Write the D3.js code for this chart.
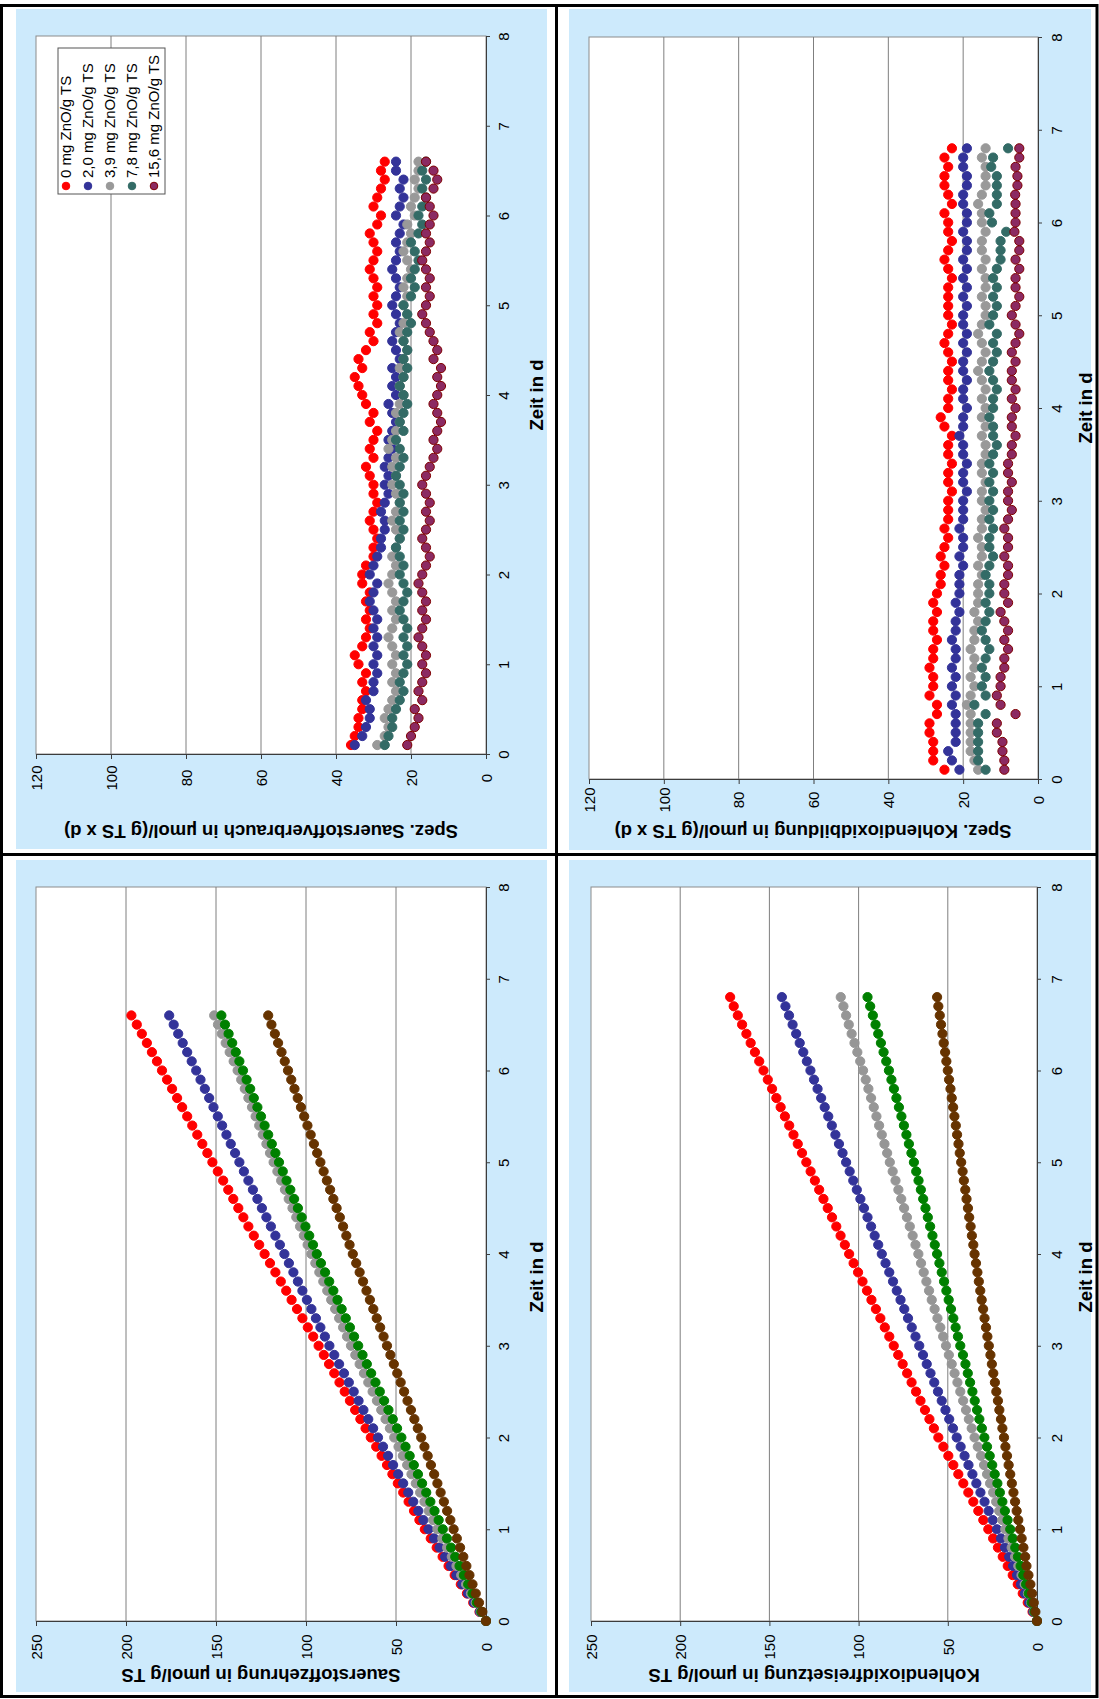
<!DOCTYPE html>
<html>
<head>
<meta charset="utf-8">
<script src="https://cdn.jsdelivr.net/npm/d3@7"></script>
<style>
  body { margin: 0; background: #fff; }
  svg { display: block; }
  text { font-family: Arial, "Liberation Sans", sans-serif; }
</style>
</head>
<body>
<svg id="chart" width="1099" height="1699"></svg>
<script>
'use strict'

// sampling times in d (one reading every 0.1 d)
const DAYS_RATE_O2 = d3.range(1, 67).map(i => i / 10)   // 0.1 .. 6.6
const DAYS_RATE_CO2 = d3.range(1, 69).map(i => i / 10)  // 0.1 .. 6.8
const DAYS_CUM_O2 = d3.range(0, 67).map(i => i / 10)    // 0.0 .. 6.6
const DAYS_CUM_CO2 = d3.range(0, 69).map(i => i / 10)   // 0.0 .. 6.8

const SERIES_NAMES = ['0 mg ZnO/g TS', '2,0 mg ZnO/g TS', '3,9 mg ZnO/g TS', '7,8 mg ZnO/g TS', '15,6 mg ZnO/g TS']
const DAY_TICKS = [0, 1, 2, 3, 4, 5, 6, 7, 8]
const RATE_TICKS = [0, 20, 40, 60, 80, 100, 120]
const CUM_TICKS = [0, 50, 100, 150, 200, 250]

// Spez. Sauerstoffverbrauch, µmol/(g TS x d)
const O2_RATE_0 = [36, 35, 34, 34, 33, 33, 32, 33, 32, 34,
  35, 33, 32, 31, 32, 31, 32, 31, 33, 33,
  32, 30, 30, 29, 30, 31, 30, 29, 30, 30,
  31, 32, 30, 31, 30, 29, 31, 30, 32, 33,
  34, 35, 33, 34, 32, 30, 31, 29, 30, 29,
  30, 29, 30, 31, 30, 29, 30, 31, 29, 28,
  30, 29, 28, 27, 28, 27]
const O2_RATE_2 = [35, 33, 32, 31, 31, 32, 30, 30, 29, 30,
  29, 30, 29, 30, 29, 30, 31, 30, 29, 31,
  30, 29, 28, 28, 27, 27, 28, 27, 26, 27,
  26, 27, 26, 25, 26, 25, 24, 25, 26, 24,
  25, 24, 25, 23, 24, 25, 24, 23, 24, 25,
  24, 23, 24, 25, 24, 23, 24, 23, 22, 24,
  23, 22, 23, 22, 24, 24]
const O2_RATE_4 = [29, 27, 26, 27, 26, 25, 24, 25, 24, 25,
  24, 25, 26, 25, 24, 25, 24, 25, 26, 25,
  24, 25, 24, 23, 24, 25, 24, 23, 24, 25,
  24, 25, 24, 26, 25, 24, 23, 24, 23, 22,
  23, 22, 23, 22, 21, 22, 23, 22, 21, 22,
  21, 22, 21, 20, 21, 22, 21, 20, 21, 19,
  20, 19, 18, 19, 18, 18]
const O2_RATE_8 = [27, 26, 25, 25, 24, 23, 22, 23, 22, 21,
  22, 21, 22, 21, 22, 23, 22, 21, 22, 23,
  22, 23, 24, 23, 22, 23, 22, 23, 22, 23,
  24, 23, 22, 23, 24, 22, 23, 22, 21, 22,
  23, 22, 21, 22, 21, 22, 21, 20, 21, 22,
  20, 19, 20, 19, 18, 19, 20, 18, 17, 18,
  17, 16, 17, 16, 17, 16]
const O2_RATE_16 = [21, 20, 19, 18, 19, 17, 18, 17, 16, 17,
  16, 17, 18, 17, 16, 17, 16, 17, 18, 17,
  16, 15, 16, 17, 16, 15, 16, 15, 16, 17,
  16, 15, 14, 13, 14, 13, 12, 13, 14, 13,
  12, 13, 12, 14, 13, 14, 15, 16, 17, 16,
  15, 16, 15, 16, 17, 16, 15, 16, 15, 14,
  15, 16, 14, 13, 14, 16]

// Spez. Kohlendioxidbildung, µmol/(g TS x d)
const CO2_RATE_0 = [25, 28, 28, 28, 29, 29, 27, 27, 29, 28,
  28, 29, 28, 28, 27, 28, 28, 27, 28, 27,
  26, 26, 25, 26, 25, 24, 25, 24, 24, 24,
  23, 24, 24, 23, 24, 24, 23, 25, 26, 24,
  24, 23, 24, 24, 23, 24, 25, 24, 23, 24,
  24, 24, 24, 23, 24, 25, 24, 23, 24, 24,
  25, 23, 24, 25, 25, 24, 25, 23]
const CO2_RATE_2 = [21, 23, 24, 22, 22, 22, 22, 23, 22, 23,
  22, 23, 22, 22, 23, 22, 22, 21, 22, 21,
  21, 21, 20, 21, 20, 20, 21, 20, 20, 20,
  19, 20, 20, 19, 20, 20, 21, 20, 20, 19,
  20, 20, 19, 20, 20, 19, 20, 19, 20, 20,
  19, 20, 19, 20, 19, 20, 19, 19, 20, 19,
  19, 20, 20, 19, 19, 20, 20, 19]
const CO2_RATE_4 = [16, 17, 18, 18, 18, 18, 18, 19, 18, 17,
  18, 17, 17, 18, 17, 17, 16, 17, 16, 16,
  16, 15, 16, 15, 15, 16, 15, 15, 14, 15,
  15, 14, 15, 15, 14, 14, 15, 14, 15, 14,
  15, 14, 15, 16, 15, 14, 15, 16, 15, 14,
  14, 15, 14, 14, 15, 14, 15, 15, 14, 15,
  15, 16, 15, 14, 14, 14, 15, 14]
const CO2_RATE_8 = [14, 16, 16, 16, 16, 16, 14, 17, 14, 15,
  14, 15, 14, 13, 14, 15, 14, 13, 14, 13,
  13, 14, 13, 12, 13, 13, 12, 13, 12, 13,
  12, 13, 12, 13, 12, 11, 12, 12, 13, 12,
  12, 11, 12, 13, 12, 11, 12, 11, 13, 12,
  11, 12, 11, 12, 11, 10, 10, 10, 8.5, 12.3,
  13, 11, 11, 11, 11, 12.5, 12, 8]
const CO2_RATE_16 = [9, 9, 9.5, 9.5, 11, 11, 6, 10, 11, 10,
  10, 9, 9, 8, 9, 8, 9, 10, 8, 9,
  9, 8, 8, 9, 8, 8, 9, 8, 7, 8,
  8, 7, 8, 8, 7, 7, 6, 7, 7, 6,
  7, 6, 7, 7, 6, 7, 6, 5, 6, 7,
  6, 5, 6, 6, 5, 6, 5, 5, 6.3, 6,
  6, 6, 6.1, 5.5, 5.5, 6, 5, 5]

// Sauerstoffzehrung, µmol/g TS
const O2_CUM_0 = [0, 3.6, 7.1, 10.6, 14, 17.4, 20.8, 24.1, 27.4, 30.7, 34,
  37, 40, 43, 46, 49, 52, 55, 58, 61, 64,
  66.9, 69.8, 72.7, 75.6, 78.5, 81.4, 84.3, 87.2, 90.1, 93,
  96, 99, 102, 105, 108, 111, 114, 117, 120, 123,
  126, 129, 132, 134.8, 137.6, 140.4, 143.2, 146, 149, 152,
  154.8, 157.6, 160.4, 163.2, 166, 168.8, 171.6, 174.4, 177.2, 180,
  182.8, 185.6, 188.4, 191.2, 194, 197]
const O2_CUM_2 = [0, 3.4, 6.7, 10, 13.2, 16.4, 19.6, 22.7, 25.8, 28.9, 32,
  34.8, 37.6, 40.4, 43.2, 46, 48.8, 51.6, 54.4, 57.2, 60,
  62.7, 65.4, 68.1, 70.8, 73.5, 76.2, 78.9, 81.6, 84.3, 87,
  89.5, 92, 94.5, 97, 99.5, 102, 104.5, 107, 109.5, 112,
  114.5, 117, 119.5, 122, 124.5, 127, 129.5, 132, 134.5, 137,
  139.4, 141.8, 144.2, 146.6, 149, 151.4, 153.8, 156.2, 158.6, 161,
  163.5, 166, 168.5, 171, 173.5, 176]
const O2_CUM_4 = [0, 2.9, 5.7, 8.4, 11.1, 13.8, 16.4, 19, 21.6, 24.3, 27,
  29.4, 31.8, 34.2, 36.6, 39, 41.4, 43.8, 46.2, 48.6, 51,
  53.4, 55.8, 58.2, 60.6, 63, 65.4, 67.8, 70.2, 72.6, 75,
  77.2, 79.4, 81.6, 83.8, 86, 88.2, 90.4, 92.6, 94.8, 97,
  99.1, 101.2, 103.3, 105.4, 107.5, 109.6, 111.7, 113.8, 115.9, 118,
  120, 122, 124, 126, 128, 130, 132, 134, 136, 138,
  140.2, 142.4, 144.6, 146.8, 148.9, 151]
const O2_CUM_8 = [0, 2.6, 5.1, 7.5, 9.9, 12.3, 14.7, 17.1, 19.4, 21.7, 24,
  26.3, 28.6, 30.9, 33.2, 35.5, 37.8, 40.1, 42.4, 44.7, 47,
  49.4, 51.8, 54.2, 56.6, 59, 61.4, 63.8, 66.2, 68.6, 71,
  73.3, 75.6, 77.9, 80.2, 82.5, 84.8, 87.1, 89.4, 91.7, 94,
  96.1, 98.2, 100.3, 102.4, 104.5, 106.6, 108.7, 110.8, 112.9, 115,
  117, 119, 121, 123, 125, 127, 129, 131, 133, 135,
  137, 139, 141, 143, 145, 147]
const O2_CUM_16 = [0, 2, 3.9, 5.7, 7.5, 9.2, 10.9, 12.6, 14.4, 16.2, 18,
  19.8, 21.6, 23.4, 25.2, 27, 28.8, 30.6, 32.4, 34.2, 36,
  37.9, 39.8, 41.7, 43.6, 45.5, 47.4, 49.3, 51.2, 53.1, 55,
  56.9, 58.8, 60.7, 62.6, 64.5, 66.4, 68.3, 70.2, 72.1, 74,
  75.8, 77.6, 79.4, 81.2, 83, 84.8, 86.6, 88.4, 90.2, 92,
  93.8, 95.6, 97.4, 99.2, 101, 102.8, 104.6, 106.4, 108.2, 110,
  111.8, 113.6, 115.5, 117.3, 119.2, 121]

// Kohlendioxidfreisetzung, µmol/g TS
const CO2_CUM_0 = [0, 2.5, 5.2, 8, 10.8, 13.6, 16.4, 19.2, 21.9, 24.6, 27.3,
  30.1, 32.9, 35.7, 38.5, 41.3, 44.1, 46.9, 49.7, 52.5, 55.3,
  57.8, 60.3, 62.8, 65.3, 67.8, 70.3, 72.8, 75.3, 77.8, 80.3,
  82.8, 85.3, 87.8, 90.3, 92.8, 95.3, 97.8, 100.3, 102.8, 105.3,
  107.7, 110.1, 112.5, 114.9, 117.3, 119.7, 122.1, 124.5, 126.9, 129.3,
  131.7, 134.1, 136.5, 138.9, 141.3, 143.7, 146.1, 148.5, 150.9, 153.3,
  155.7, 158.1, 160.5, 162.9, 165.3, 167.7, 170, 172]
const CO2_CUM_2 = [0, 2.1, 4.4, 6.8, 9, 11.2, 13.4, 15.6, 17.9, 20.2, 22.5,
  24.8, 27.1, 29.4, 31.7, 34, 36.2, 38.4, 40.6, 42.8, 45,
  47.1, 49.2, 51.3, 53.4, 55.5, 57.6, 59.7, 61.8, 63.9, 66,
  68.1, 70.2, 72.3, 74.4, 76.5, 78.6, 80.7, 82.8, 84.9, 87,
  89, 91, 93, 95, 97, 99, 101, 103, 105, 107,
  109, 111, 113, 115, 117, 119, 121, 123, 125, 127,
  129, 131, 133, 135, 137, 139, 141, 143]
const CO2_CUM_4 = [0, 1.6, 3.3, 5.1, 6.9, 8.7, 10.5, 12.3, 14.2, 16, 17.8,
  19.5, 21.2, 22.9, 24.6, 26.3, 28, 29.7, 31.4, 33.2, 35,
  36.6, 38.2, 39.8, 41.4, 43, 44.6, 46.2, 47.8, 49.4, 51,
  52.6, 54.2, 55.8, 57.4, 59, 60.5, 62, 63.5, 65, 66.5,
  68.1, 69.7, 71.3, 72.9, 74.5, 76.1, 77.7, 79.3, 80.9, 82.5,
  84, 85.5, 87, 88.5, 90, 91.5, 93, 94.5, 96, 97.5,
  99.1, 100.7, 102.3, 103.9, 105.5, 107, 108.5, 110]
const CO2_CUM_8 = [0, 1.4, 3, 4.6, 6.1, 7.7, 9.2, 10.7, 12.2, 13.6, 15,
  16.5, 18, 19.4, 20.8, 22.2, 23.7, 25.1, 26.5, 28, 29.5,
  30.9, 32.3, 33.6, 34.9, 36.2, 37.5, 38.8, 40.1, 41.5, 43,
  44.3, 45.6, 46.9, 48.2, 49.5, 50.8, 52.1, 53.4, 54.7, 56,
  57.3, 58.6, 59.9, 61.2, 62.5, 63.8, 65.1, 66.4, 67.7, 69,
  70.4, 71.8, 73.2, 74.6, 76, 77.4, 78.8, 80.2, 81.6, 83,
  84.5, 86, 87.5, 89, 90.5, 92, 93.5, 95]
const CO2_CUM_16 = [0, 0.9, 1.8, 2.8, 3.7, 4.8, 5.9, 6.6, 7.6, 8.6, 9.5,
  10.5, 11.4, 12.3, 13.2, 14.1, 15, 15.9, 16.8, 17.7, 18.5,
  19.4, 20.2, 21.1, 21.9, 22.8, 23.6, 24.5, 25.3, 26.1, 27,
  27.8, 28.6, 29.4, 30.2, 31, 31.8, 32.6, 33.4, 34.2, 35,
  35.7, 36.5, 37.2, 38, 38.7, 39.5, 40.2, 41, 41.7, 42.5,
  43.3, 44, 44.8, 45.5, 46.3, 47, 47.8, 48.5, 49.3, 50,
  50.8, 51.5, 52.3, 53, 53.8, 54.5, 55.3, 56]

// marker styles
const RATE_STYLE = [
  { fill: '#ff0000', stroke: '#ff0000' },
  { fill: '#333399', stroke: '#333399' },
  { fill: '#999999', stroke: '#999999' },
  { fill: '#336b66', stroke: '#336b66' },
  { fill: '#8b2a62', stroke: '#800000' }
]
const CUM_STYLE = [
  { fill: '#ff0000', stroke: '#ff0000' },
  { fill: '#333399', stroke: '#333399' },
  { fill: '#969696', stroke: '#969696' },
  { fill: '#008000', stroke: '#008000' },
  { fill: '#663300', stroke: '#663300' }
]

const BG = '#cdeafc'
const svg = d3.select('#chart')

const PANELS = [
  {
    bg: [16, 9, 531, 840],
    plot: { left: 36, right: 486, top: 36, bottom: 754 },
    max: 120,
    valueTicks: RATE_TICKS,
    valueLabelY: 778,
    dayLabelX: 504,
    title: 'Spez. Sauerstoffverbrauch in µmol/(g TS x d)',
    titlePos: [261, 831],
    zeitPos: [537, 395],
    days: DAYS_RATE_O2,
    series: [O2_RATE_0, O2_RATE_2, O2_RATE_4, O2_RATE_8, O2_RATE_16],
    style: RATE_STYLE,
    legend: true
  },
  {
    bg: [569, 9, 522, 841],
    plot: { left: 589, right: 1038, top: 37, bottom: 779 },
    max: 120,
    valueTicks: RATE_TICKS,
    valueLabelY: 800,
    dayLabelX: 1057,
    title: 'Spez. Kohlendioxidbildung in µmol/(g TS x d)',
    titlePos: [813, 831],
    zeitPos: [1086, 408],
    days: DAYS_RATE_CO2,
    series: [CO2_RATE_0, CO2_RATE_2, CO2_RATE_4, CO2_RATE_8, CO2_RATE_16],
    style: RATE_STYLE
  },
  {
    bg: [16, 860, 531, 832],
    plot: { left: 36, right: 486, top: 887, bottom: 1621 },
    max: 250,
    valueTicks: CUM_TICKS,
    valueLabelY: 1647,
    dayLabelX: 504,
    title: 'Sauerstoffzehrung in µmol/g TS',
    titlePos: [261, 1675],
    zeitPos: [537, 1277],
    days: DAYS_CUM_O2,
    series: [O2_CUM_0, O2_CUM_2, O2_CUM_4, O2_CUM_8, O2_CUM_16],
    style: CUM_STYLE
  },
  {
    bg: [569, 860, 522, 832],
    plot: { left: 591, right: 1037, top: 887, bottom: 1621 },
    max: 250,
    valueTicks: CUM_TICKS,
    valueLabelY: 1647,
    dayLabelX: 1057,
    title: 'Kohlendioxidfreisetzung in µmol/g TS',
    titlePos: [814, 1675],
    zeitPos: [1086, 1277],
    days: DAYS_CUM_CO2,
    series: [CO2_CUM_0, CO2_CUM_2, CO2_CUM_4, CO2_CUM_8, CO2_CUM_16],
    style: CUM_STYLE
  }
]

function drawPanel (p) {
  const g = svg.append('g')
  const pl = p.plot

  g.append('rect')
    .attr('x', p.bg[0]).attr('y', p.bg[1])
    .attr('width', p.bg[2]).attr('height', p.bg[3])
    .attr('fill', BG)

  // value axis runs right (0) to left, time runs bottom (0) to top
  const x = d3.scaleLinear().domain([0, p.max]).range([pl.right, pl.left])
  const y = d3.scaleLinear().domain([0, 8]).range([pl.bottom, pl.top])

  g.append('rect')
    .attr('x', pl.left).attr('y', pl.top)
    .attr('width', pl.right - pl.left).attr('height', pl.bottom - pl.top)
    .attr('fill', '#fff')
    .attr('stroke', '#8c8c8c')

  g.selectAll('line.grid')
    .data(p.valueTicks.filter(v => v > 0 && v < p.max))
    .join('line')
    .attr('class', 'grid')
    .attr('x1', d => x(d)).attr('x2', d => x(d))
    .attr('y1', pl.top).attr('y2', pl.bottom)
    .attr('stroke', '#7f7f7f')

  const valueAxis = g.append('g')
    .attr('transform', 'translate(0,' + pl.bottom + ')')
    .call(d3.axisBottom(x).tickValues(p.valueTicks).tickSize(5).tickSizeOuter(0).tickFormat(d3.format('d')))
  valueAxis.selectAll('text')
    .attr('y', 0).attr('dy', '0.35em')
    .attr('transform', 'translate(0,' + (p.valueLabelY - pl.bottom) + ') rotate(-90)')
    .style('text-anchor', 'middle')

  const dayAxis = g.append('g')
    .attr('transform', 'translate(' + pl.right + ',0)')
    .call(d3.axisRight(y).tickValues(DAY_TICKS).tickSize(4).tickSizeOuter(0).tickFormat(d3.format('d')))
  dayAxis.selectAll('text')
    .attr('x', 0).attr('dy', '0.35em')
    .attr('transform', 'translate(' + (p.dayLabelX - pl.right) + ',0) rotate(-90)')
    .style('text-anchor', 'middle')

  g.selectAll('.domain, .tick line').attr('stroke', '#3c3c3c')
  g.selectAll('.tick text').attr('font-size', 15).attr('fill', '#000')
    .attr('font-family', 'Arial, "Liberation Sans", sans-serif')

  p.series.forEach((vals, i) => {
    g.append('g')
      .selectAll('circle')
      .data(d3.zip(p.days, vals))
      .join('circle')
      .attr('cx', d => x(d[1]))
      .attr('cy', d => y(d[0]))
      .attr('r', 4.6)
      .attr('fill', p.style[i].fill)
      .attr('stroke', p.style[i].stroke)
      .attr('stroke-width', 1)
  })

  g.append('text')
    .attr('transform', 'translate(' + p.titlePos[0] + ',' + p.titlePos[1] + ') rotate(180)')
    .attr('text-anchor', 'middle')
    .attr('dy', '0.35em')
    .attr('font-size', 18.5)
    .attr('font-weight', 'bold')
    .text(p.title)

  g.append('text')
    .attr('transform', 'translate(' + p.zeitPos[0] + ',' + p.zeitPos[1] + ') rotate(-90)')
    .attr('text-anchor', 'middle')
    .attr('dy', '0.35em')
    .attr('font-size', 18.5)
    .attr('font-weight', 'bold')
    .text('Zeit in d')

  if (p.legend) {
    const lg = g.append('g')
    lg.append('rect')
      .attr('x', 58).attr('y', 48).attr('width', 107).attr('height', 146)
      .attr('fill', '#fff').attr('stroke', '#555')
    SERIES_NAMES.forEach((name, i) => {
      const cx = 66 + i * 22
      lg.append('circle')
        .attr('cx', cx).attr('cy', 186).attr('r', 3.8)
        .attr('fill', p.style[i].fill).attr('stroke', p.style[i].stroke)
      lg.append('text')
        .attr('transform', 'translate(' + cx + ',178) rotate(-90)')
        .attr('dy', '0.35em')
        .attr('font-size', 15)
        .text(name)
    })
  }
}

PANELS.forEach(drawPanel)

// black frame and dividers
svg.append('rect')
  .attr('x', 1.5).attr('y', 5.5).attr('width', 1095.5).attr('height', 1691)
  .attr('fill', 'none').attr('stroke', '#000').attr('stroke-width', 3)
svg.append('line')
  .attr('x1', 556.5).attr('x2', 556.5).attr('y1', 5).attr('y2', 1697)
  .attr('stroke', '#000').attr('stroke-width', 3)
svg.append('line')
  .attr('x1', 1).attr('x2', 1098).attr('y1', 854.5).attr('y2', 854.5)
  .attr('stroke', '#000').attr('stroke-width', 3)
</script>
</body>
</html>
